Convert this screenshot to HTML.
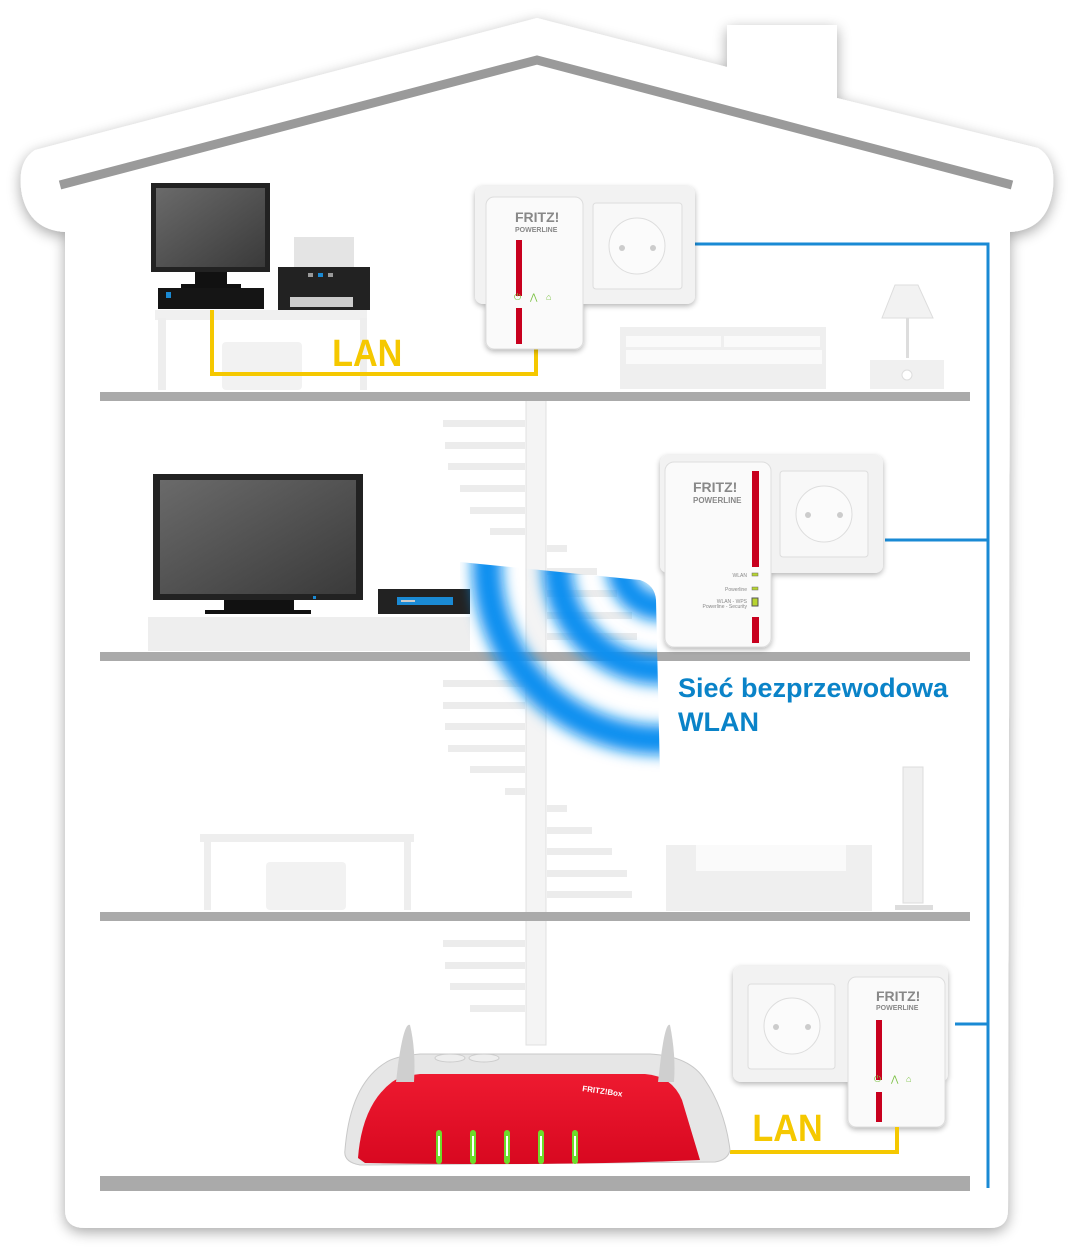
<!DOCTYPE html>
<html><head><meta charset="utf-8"><style>html,body{margin:0;padding:0;background:#fff}svg{display:block}</style></head>
<body>
<svg width="1075" height="1250" viewBox="0 0 1075 1250" xmlns="http://www.w3.org/2000/svg" font-family="Liberation Sans, sans-serif">
<defs>
<filter id="sh" x="-10%" y="-10%" width="120%" height="120%"><feGaussianBlur in="SourceAlpha" stdDeviation="7"/><feOffset dx="0" dy="4"/><feComponentTransfer><feFuncA type="linear" slope="0.35"/></feComponentTransfer><feMerge><feMergeNode/><feMergeNode in="SourceGraphic"/></feMerge></filter>
<filter id="bl" x="-20%" y="-20%" width="140%" height="140%"><feGaussianBlur stdDeviation="7"/></filter>
<filter id="ds"><feGaussianBlur in="SourceAlpha" stdDeviation="3"/><feOffset dy="2"/><feComponentTransfer><feFuncA type="linear" slope="0.3"/></feComponentTransfer><feMerge><feMergeNode/><feMergeNode in="SourceGraphic"/></feMerge></filter>
<linearGradient id="scr" x1="0" y1="0" x2="1" y2="1"><stop offset="0" stop-color="#6a6a6a"/><stop offset="1" stop-color="#3a3a3a"/></linearGradient>
<linearGradient id="red" x1="0" y1="0" x2="0" y2="1"><stop offset="0" stop-color="#ee1a30"/><stop offset="1" stop-color="#d80820"/></linearGradient>
<clipPath id="wc"><path d="M460 562 L640 580 Q655 585 656 600 L660 775 L460 775 Z"/></clipPath>
</defs>

<!-- house -->
<path filter="url(#sh)" fill="#fff" d="M537 18 L727 67 L727 25 L837 25 L837 98 L1038 148 Q1058 160 1052 195 Q1045 230 1010 232 L1008 1210 Q1008 1228 990 1228 L85 1228 Q65 1228 65 1210 L65 232 Q30 230 22 195 Q16 162 35 150 Z"/>
<path d="M60 185 L537 60 L1012 185" fill="none" stroke="#9a9a9a" stroke-width="9"/>

<!-- stair -->
<g fill="#ececec">
<rect x="443" y="420" width="82" height="7"/><rect x="445" y="442" width="80" height="7"/><rect x="448" y="463" width="77" height="7"/><rect x="460" y="485" width="65" height="7"/><rect x="470" y="507" width="55" height="7"/><rect x="490" y="528" width="35" height="7"/>
<rect x="547" y="545" width="20" height="7"/><rect x="547" y="568" width="50" height="7"/><rect x="547" y="590" width="70" height="7"/><rect x="547" y="612" width="85" height="7"/><rect x="547" y="633" width="90" height="7"/>
<rect x="443" y="680" width="82" height="7"/><rect x="443" y="702" width="82" height="7"/><rect x="445" y="723" width="80" height="7"/><rect x="448" y="745" width="77" height="7"/><rect x="470" y="766" width="55" height="7"/><rect x="505" y="788" width="20" height="7"/>
<rect x="547" y="805" width="20" height="7"/><rect x="547" y="827" width="45" height="7"/><rect x="547" y="848" width="65" height="7"/><rect x="547" y="870" width="80" height="7"/><rect x="547" y="891" width="85" height="7"/>
<rect x="443" y="940" width="82" height="7"/><rect x="445" y="962" width="80" height="7"/><rect x="450" y="983" width="75" height="7"/><rect x="470" y="1005" width="55" height="7"/>
</g>
<rect x="526" y="395" width="20" height="650" fill="#f4f4f4" stroke="#e0e0e0" stroke-width="1"/>

<!-- floors -->
<g fill="#aaa"><rect x="100" y="392" width="870" height="9"/><rect x="100" y="652" width="870" height="9"/><rect x="100" y="912" width="870" height="9"/><rect x="100" y="1176" width="870" height="15"/></g>

<!-- blue line -->
<path d="M695 244 L988 244 L988 1188 M885 540 L988 540 M955 1024 L988 1024" fill="none" stroke="#1a8ad4" stroke-width="3"/>

<!-- floor 1 furniture -->
<rect x="155" y="310" width="212" height="10" fill="#f0f0f0"/><rect x="158" y="318" width="8" height="72" fill="#eee"/><rect x="360" y="318" width="7" height="72" fill="#eee"/>
<rect x="222" y="342" width="80" height="48" rx="4" fill="#f2f2f2"/>
<rect x="151" y="183" width="119" height="89" fill="#222"/><rect x="156" y="188" width="109" height="79" fill="url(#scr)"/>
<rect x="195" y="272" width="32" height="12" fill="#111"/><rect x="181" y="284" width="60" height="4" fill="#111"/>
<rect x="158" y="288" width="106" height="21" fill="#151515"/><rect x="166" y="292" width="5" height="6" fill="#1a8ad4"/>
<rect x="294" y="237" width="60" height="33" fill="#e4e4e4"/><rect x="278" y="267" width="92" height="43" fill="#222"/><rect x="290" y="297" width="63" height="10" fill="#ccc"/><rect x="308" y="273" width="5" height="4" fill="#999"/><rect x="318" y="273" width="5" height="4" fill="#1a8ad4"/><rect x="328" y="273" width="5" height="4" fill="#999"/>
<path d="M212 310 L212 374 L536 374 L536 345" fill="none" stroke="#f5c800" stroke-width="4"/>
<text x="332" y="366" font-size="38" font-weight="bold" fill="#f5c800" transform="scale(0.9 1) translate(37 0)">LAN</text>
<rect x="620" y="327" width="206" height="62" fill="#efefef"/><rect x="626" y="336" width="95" height="11" fill="#fafafa"/><rect x="724" y="336" width="96" height="11" fill="#fafafa"/><rect x="626" y="350" width="196" height="14" fill="#fafafa"/>
<path d="M895 285 L918 285 L933 318 L882 318 Z" fill="#f2f2f2" stroke="#ddd"/><rect x="906" y="318" width="3" height="40" fill="#ddd"/><rect x="870" y="360" width="74" height="29" fill="#f0f0f0"/><circle cx="907" cy="375" r="5" fill="#fff" stroke="#ddd"/>

<!-- powerline 1 -->
<g filter="url(#ds)">
<rect x="475" y="186" width="220" height="118" rx="8" fill="#f2f2f2"/>
<rect x="593" y="203" width="89" height="86" rx="3" fill="#f8f8f8" stroke="#ddd"/>
<circle cx="637" cy="246" r="28" fill="#fbfbfb" stroke="#ddd"/><circle cx="622" cy="248" r="3" fill="#ccc"/><circle cx="653" cy="248" r="3" fill="#ccc"/>
<rect x="486" y="197" width="97" height="152" rx="8" fill="#fafafa" stroke="#ddd"/>
</g>
<text x="515" y="222" font-size="14" font-weight="bold" fill="#888">FRITZ!</text><text x="515" y="232" font-size="7" font-weight="bold" fill="#888">POWERLINE</text>
<rect x="516" y="240" width="6" height="56" fill="#c8001e"/><rect x="516" y="308" width="6" height="36" fill="#c8001e"/>
<g fill="#7bc143" font-size="9"><text x="514" y="300">⏻</text><text x="530" y="300">⋀</text><text x="546" y="300">⌂</text></g>

<!-- floor 2 -->
<rect x="148" y="617" width="322" height="34" fill="#eee"/>
<rect x="153" y="474" width="210" height="126" fill="#222"/><rect x="160" y="480" width="196" height="114" fill="url(#scr)"/><rect x="313" y="596" width="3" height="3" fill="#1a8ad4"/>
<rect x="224" y="600" width="70" height="10" fill="#111"/><rect x="205" y="610" width="106" height="4" fill="#111"/>
<rect x="378" y="589" width="92" height="25" fill="#222"/><rect x="397" y="597" width="56" height="8" fill="#1a8ad4"/><rect x="401" y="600" width="14" height="2" fill="#ccc"/>
<g filter="url(#ds)">
<rect x="660" y="455" width="223" height="118" rx="8" fill="#f2f2f2"/>
<rect x="780" y="471" width="88" height="86" rx="3" fill="#f8f8f8" stroke="#ddd"/>
<circle cx="824" cy="514" r="28" fill="#fbfbfb" stroke="#ddd"/><circle cx="808" cy="515" r="3" fill="#ccc"/><circle cx="840" cy="515" r="3" fill="#ccc"/>
<rect x="665" y="462" width="106" height="185" rx="9" fill="#fafafa" stroke="#ddd"/>
</g>
<text x="693" y="492" font-size="14" font-weight="bold" fill="#888">FRITZ!</text><text x="693" y="503" font-size="8" font-weight="bold" fill="#888">POWERLINE</text>
<rect x="752" y="471" width="7" height="96" fill="#c8001e"/><rect x="752" y="617" width="7" height="26" fill="#c8001e"/>
<g font-size="5" fill="#888" text-anchor="end"><text x="747" y="577">WLAN</text><text x="747" y="591">Powerline</text><text x="747" y="603">WLAN - WPS</text><text x="747" y="608">Powerline - Security</text></g>
<rect x="752" y="573" width="6" height="3" fill="#b7d430" stroke="#666" stroke-width="0.5"/><rect x="752" y="587" width="6" height="3" fill="#b7d430" stroke="#666" stroke-width="0.5"/><rect x="752" y="598" width="6" height="8" fill="#b7d430" stroke="#555" stroke-width="1"/>

<!-- wifi -->
<g clip-path="url(#wc)">
<g filter="url(#bl)" fill="none" stroke="#0a8ff0">
<circle cx="662" cy="565" r="175" stroke-width="30"/>
<circle cx="662" cy="565" r="105" stroke-width="30"/>
<circle cx="662" cy="565" r="42" stroke-width="28"/>
</g></g>
<text x="678" y="697" font-size="27" font-weight="bold" fill="#0a83c8">Sieć bezprzewodowa</text>
<text x="678" y="731" font-size="27" font-weight="bold" fill="#0a83c8">WLAN</text>

<!-- floor 3 -->
<rect x="200" y="834" width="214" height="8" fill="#eee"/><rect x="204" y="840" width="7" height="70" fill="#eee"/><rect x="404" y="840" width="7" height="70" fill="#eee"/>
<rect x="266" y="862" width="80" height="48" rx="4" fill="#f2f2f2"/>
<rect x="666" y="845" width="206" height="66" fill="#efefef"/><rect x="696" y="845" width="150" height="26" fill="#fafafa"/>
<rect x="903" y="767" width="20" height="136" fill="#f0f0f0" stroke="#ddd"/><rect x="895" y="905" width="38" height="5" fill="#ddd"/>

<!-- floor 4 powerline -->
<g filter="url(#ds)">
<rect x="733" y="966" width="215" height="116" rx="8" fill="#f2f2f2"/>
<rect x="748" y="984" width="87" height="85" rx="3" fill="#f8f8f8" stroke="#ddd"/>
<circle cx="792" cy="1026" r="28" fill="#fbfbfb" stroke="#ddd"/><circle cx="776" cy="1027" r="3" fill="#ccc"/><circle cx="808" cy="1027" r="3" fill="#ccc"/>
<rect x="848" y="977" width="97" height="150" rx="8" fill="#fafafa" stroke="#ddd"/>
</g>
<text x="876" y="1001" font-size="14" font-weight="bold" fill="#888">FRITZ!</text><text x="876" y="1010" font-size="7" font-weight="bold" fill="#888">POWERLINE</text>
<rect x="876" y="1020" width="6" height="60" fill="#c8001e"/><rect x="876" y="1092" width="6" height="30" fill="#c8001e"/>
<g fill="#7bc143" font-size="9"><text x="874" y="1082">⏻</text><text x="891" y="1082">⋀</text><text x="906" y="1082">⌂</text></g>
<path d="M730 1152 L897 1152 L897 1127" fill="none" stroke="#f5c800" stroke-width="4"/>
<text x="752" y="1141" font-size="38" font-weight="bold" fill="#f5c800" transform="scale(0.9 1) translate(84 0)">LAN</text>

<!-- router -->
<path d="M345 1150 Q350 1085 385 1063 Q395 1056 420 1054 L650 1054 Q690 1056 705 1080 Q725 1110 730 1150 Q728 1160 715 1162 L360 1165 Q343 1162 345 1150 Z" fill="#e6e6e6" stroke="#c8c8c8"/>
<path d="M358 1158 Q362 1105 392 1082 Q400 1076 420 1074 L645 1074 Q672 1076 682 1100 L700 1160 Q560 1166 365 1163 Z" fill="url(#red)"/>
<path d="M398 1065 Q404 1022 410 1025 Q416 1050 414 1082 L396 1082 Z" fill="#cfcfcf"/>
<path d="M660 1065 Q665 1022 670 1025 Q676 1055 674 1082 L658 1082 Z" fill="#cfcfcf"/>
<ellipse cx="450" cy="1058" rx="15" ry="4" fill="#eee" stroke="#ccc"/><ellipse cx="484" cy="1058" rx="15" ry="4" fill="#eee" stroke="#ccc"/>
<text x="582" y="1091" font-size="8" font-weight="bold" fill="#fff" transform="rotate(8 582 1091)">FRITZ!Box</text>
<g fill="#6ddc2a"><rect x="436" y="1130" width="6" height="34" rx="3"/><rect x="470" y="1130" width="6" height="34" rx="3"/><rect x="504" y="1130" width="6" height="34" rx="3"/><rect x="538" y="1130" width="6" height="34" rx="3"/><rect x="572" y="1130" width="6" height="34" rx="3"/></g>
<g fill="#fff"><rect x="438" y="1136" width="2" height="20"/><rect x="472" y="1136" width="2" height="20"/><rect x="506" y="1136" width="2" height="20"/><rect x="540" y="1136" width="2" height="20"/><rect x="574" y="1136" width="2" height="20"/></g>
</svg>
</body></html>
